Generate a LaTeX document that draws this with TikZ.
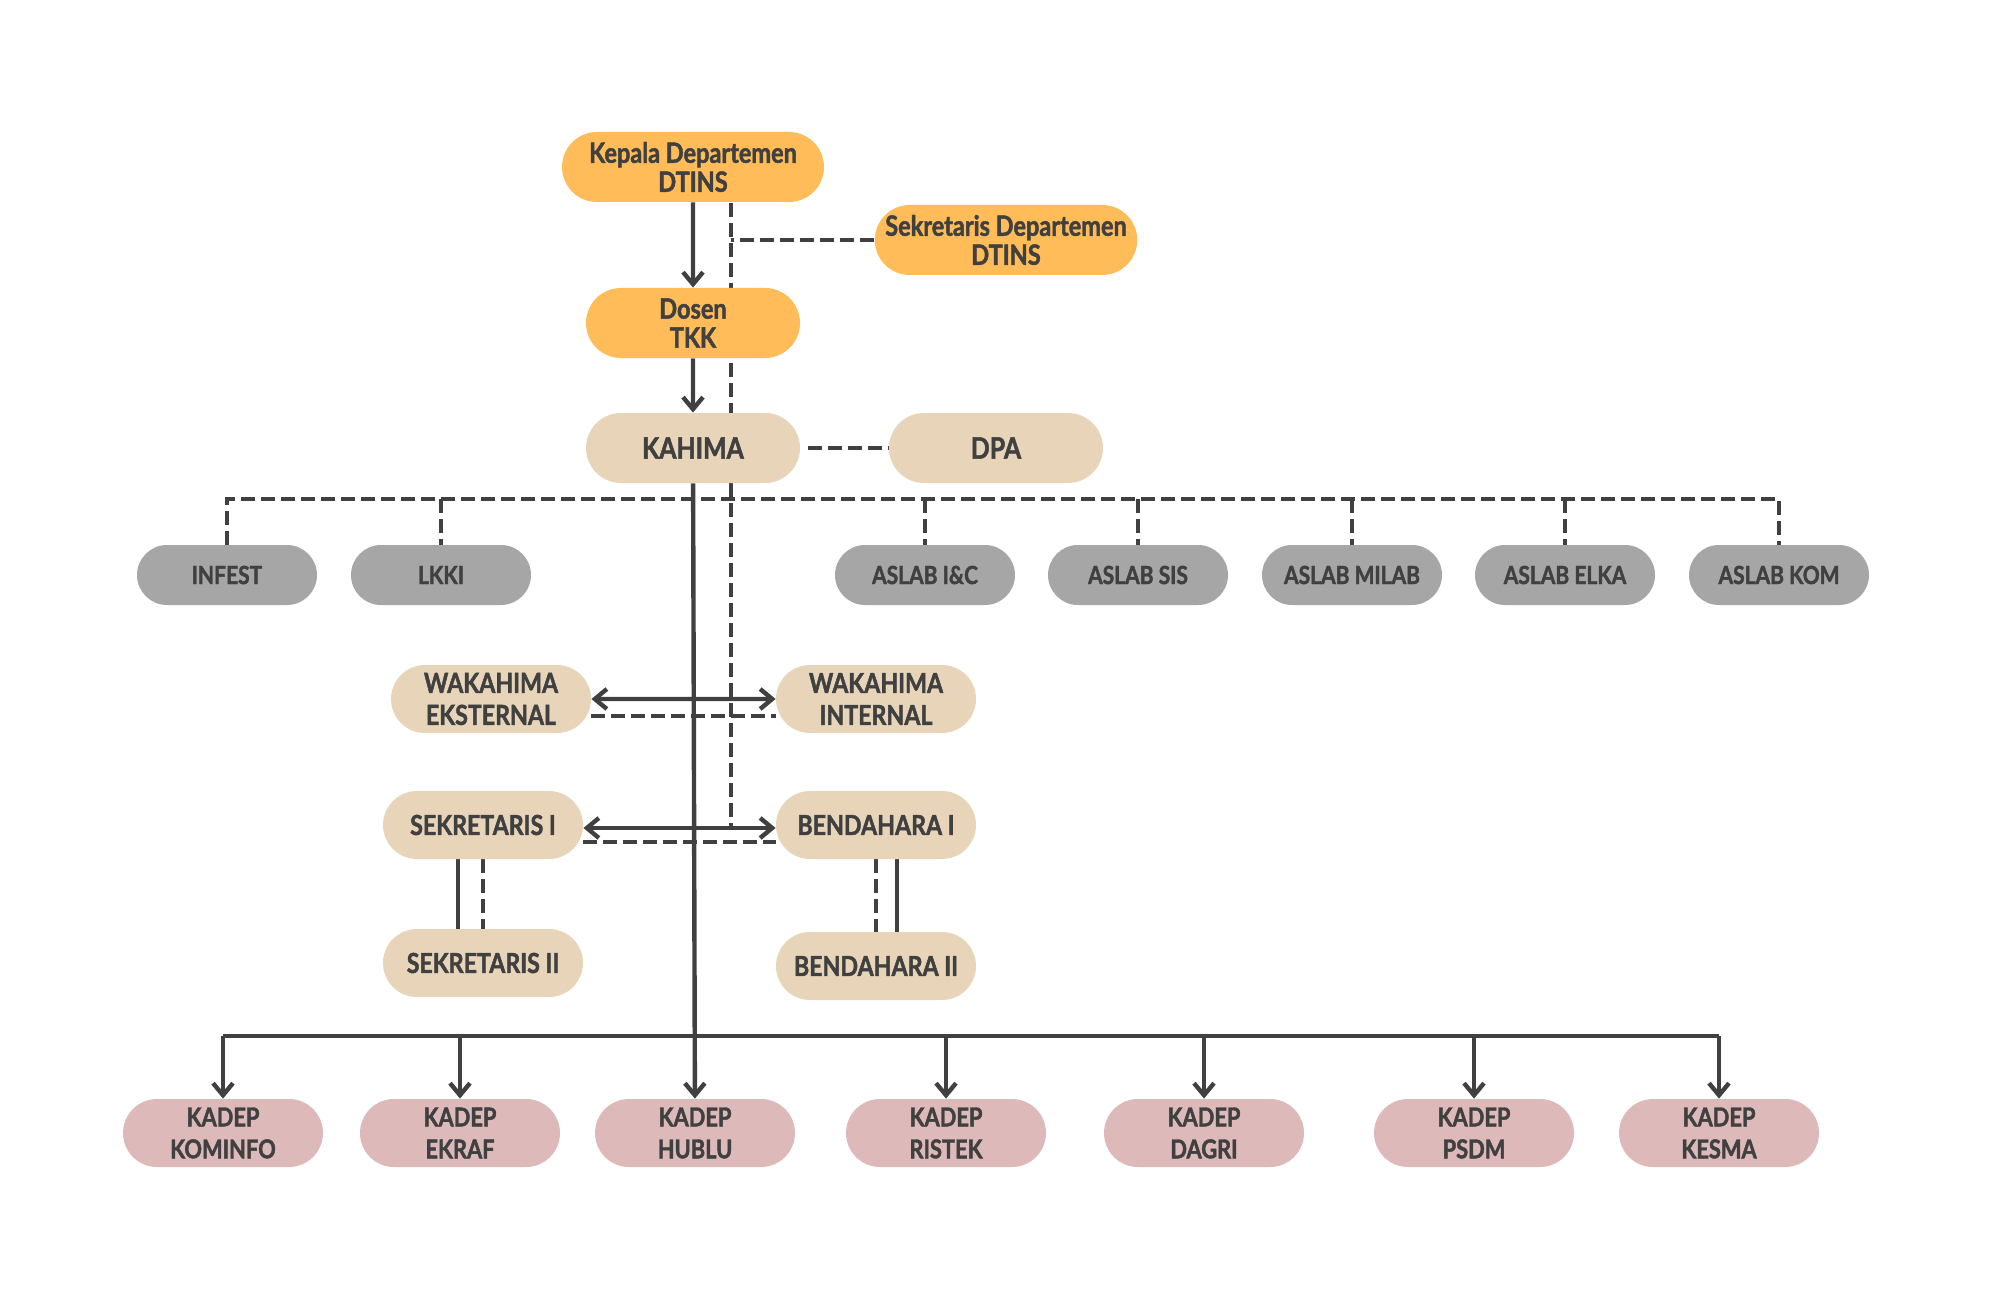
\documentclass[tikz,border=0pt]{standalone}
\usepackage{fontspec}
\setmainfont{Lato}[FakeStretch=0.84, BoldFeatures={FakeBold=1.6}]
\usetikzlibrary{arrows.meta, positioning, backgrounds, shapes.misc}

\definecolor{dosenorange}{HTML}{FFBC59}
\definecolor{hmabeige}{HTML}{E8D5B9}
\definecolor{aslabgray}{HTML}{A6A6A6}
\definecolor{kadeppink}{HTML}{DDB9B9}
\definecolor{inkgray}{HTML}{404040}

\begin{document}
\begin{tikzpicture}[
            x=0.5pt, y=-0.5pt,
            box/.style={rounded rectangle, inner sep=0pt, text=inkgray, align=center},
            dosenbox/.style={box, fill=dosenorange, minimum height=35pt,
                font=\bfseries\fontsize{14}{14.5}\selectfont},
            hmabox/.style={box, fill=hmabeige, minimum height=34pt,
                font=\bfseries\fontsize{13.8}{16}\selectfont},
            aslabbox/.style={box, fill=aslabgray, minimum width=90pt, minimum height=30pt,
                font=\bfseries\fontsize{12.5}{13}\selectfont},
            kadepbox/.style={box, fill=kadeppink, minimum width=100pt, minimum height=34pt,
                font=\bfseries\fontsize{13}{16}\selectfont},
            solidline/.style={draw=inkgray, line width=2.2pt},
            dashline/.style={draw=inkgray, line width=1.8pt, dash pattern=on 7pt off 3pt},
            downarrow/.style={solidline, -{Straight Barb[length=6pt, width=10pt, line width=2.2pt]}},
            twoarrow/.style={solidline, {Straight Barb[length=6pt, width=10pt, line width=2.2pt]}-{Straight Barb[length=6pt, width=10pt, line width=2.2pt]}}
        ]
        \useasboundingbox (0,0) rectangle (2000,1294);

        % dosen
        \node[dosenbox, minimum width=131pt] (kadept) at (693,167) {Kepala Departemen\\DTINS};
        \node[dosenbox, minimum width=131pt] (sekdept) at (1006,240) {Sekretaris Departemen\\DTINS};
        \node[dosenbox, minimum width=107pt] (dosen) at (693,323) {Dosen\\TKK};

        % himpunan
        \node[hmabox, minimum width=107pt, minimum height=35pt, font=\bfseries\fontsize{14.8}{16}\selectfont] (kahima) at (693,448) {KAHIMA};
        \node[hmabox, minimum width=107pt, minimum height=35pt, font=\bfseries\fontsize{14.8}{16}\selectfont] (dpa) at (996,448) {DPA};
        \node[hmabox, minimum width=100pt] (wakaeks) at (491,699) {WAKAHIMA\\EKSTERNAL};
        \node[hmabox, minimum width=100pt] (wakaint) at (876,699) {WAKAHIMA\\INTERNAL};
        \node[hmabox, minimum width=100pt] (sekI) at (483,825) {SEKRETARIS I};
        \node[hmabox, minimum width=100pt] (bendI) at (876,825) {BENDAHARA I};
        \node[hmabox, minimum width=100pt] (sekII) at (483,963) {SEKRETARIS II};
        \node[hmabox, minimum width=100pt] (bendII) at (876,966) {BENDAHARA II};

        % lembaga & aslab
        \node[aslabbox] (infest) at (227,575) {INFEST};
        \node[aslabbox] (lkki) at (441,575) {LKKI};
        \node[aslabbox] (aslabic) at (925,575) {ASLAB I\&C};
        \node[aslabbox] (aslabsis) at (1138,575) {ASLAB SIS};
        \node[aslabbox] (aslabmilab) at (1352,575) {ASLAB MILAB};
        \node[aslabbox] (aslabelka) at (1565,575) {ASLAB ELKA};
        \node[aslabbox] (aslabkom) at (1779,575) {ASLAB KOM};

        % kadep
        \node[kadepbox] (kominfo) at (223,1133) {KADEP\\KOMINFO};
        \node[kadepbox] (ekraf) at (460,1133) {KADEP\\EKRAF};
        \node[kadepbox] (hublu) at (695,1133) {KADEP\\HUBLU};
        \node[kadepbox] (ristek) at (946,1133) {KADEP\\RISTEK};
        \node[kadepbox] (dagri) at (1204,1133) {KADEP\\DAGRI};
        \node[kadepbox] (psdm) at (1474,1133) {KADEP\\PSDM};
        \node[kadepbox] (kesma) at (1719,1133) {KADEP\\KESMA};

        \coordinate (dashtop) at (731,203);
        \coordinate (dashend) at (731,828);
        \coordinate (aslabbus) at (0,499);
        \coordinate (kadepbus) at (0,1036);

        \begin{scope}[on background layer]
            \draw[downarrow] (kadept) -- (dosen);
            \draw[downarrow] (dosen) -- (kahima);
            \draw[dashline] (dashtop) -- (dashend);
            \draw[dashline] (sekdept.west) -- (sekdept.west -| dashtop);
            \draw[dashline] ([xshift=4pt]kahima.east) -- (dpa.west);

            \draw[dashline] (infest.north) |- (aslabbus -| aslabkom) -- (aslabkom.north);
            \foreach \n in {lkki, aslabic, aslabsis, aslabmilab, aslabelka}
                \draw[dashline] (aslabbus -| \n) -- (\n.north);

            \draw[twoarrow] (wakaeks) -- (wakaint);
            \draw[dashline] ([yshift=-8.5pt]wakaeks.east) -- ([yshift=-8.5pt]wakaint.west);
            \draw[twoarrow] ([yshift=-1.5pt]sekI.east) -- ([yshift=-1.5pt]bendI.west);
            \draw[dashline] ([yshift=-8.5pt]sekI.east) -- ([yshift=-8.5pt]bendI.west);

            \draw[solidline] ([xshift=-12.5pt]sekI.south) -- ([xshift=-12.5pt]sekII.north);
            \draw[dashline] (sekI.south) -- (sekII.north);
            \draw[dashline] (bendI.south) -- (bendII.north);
            \draw[solidline] ([xshift=10.5pt]bendI.south) -- ([xshift=10.5pt]bendII.north);

            \draw[downarrow] (kahima) -- (hublu);
            \draw[solidline] (kadepbus -| kominfo) -- (kadepbus -| kesma);
            \foreach \n in {kominfo, ekraf, ristek, dagri, psdm, kesma}
                \draw[downarrow] (kadepbus -| \n) -- (\n.north);
        \end{scope}
    \end{tikzpicture}
\end{document}
